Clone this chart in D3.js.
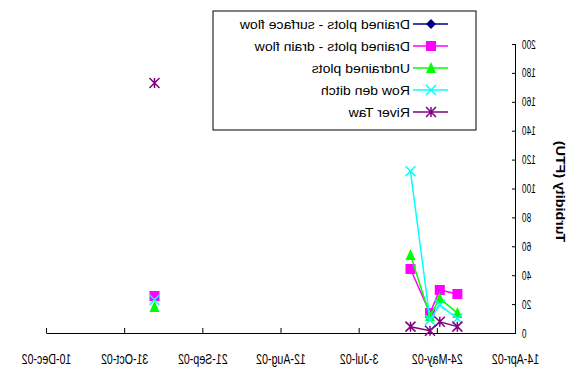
<!DOCTYPE html>
<html>
<head>
<meta charset="utf-8">
<script src="https://cdnjs.cloudflare.com/ajax/libs/d3/7.8.5/d3.min.js"></script>
<style>
  body { margin: 0; background: #fff; }
  svg { display: block; transform: scaleX(-1); }
  text { font-family: "Liberation Sans", Arial, sans-serif; fill: #000; }
</style>
</head>
<body>
<svg id="chart" width="579" height="372"></svg>
<script>
// sampling dates (a blank row between June and October gives the gap)
const dates = ["14-May-02", "23-May-02", "28-May-02", "7-Jun-02", null, "16-Oct-02"];
const surfaceFlow = [null, null, null, null, null, null];
const drainFlow   = [27, 29.8, 13.8, 44.3, null, 25.6];
const undrained   = [13.8, 24, 11.8, 54, null, 18];
const rowDen      = [10, 19.5, 9, 112, null, 23];
const riverTaw    = [4.4, 7.8, 1.6, 4.4, null, 173];

const xTickLabels = ["14-Apr-02", "24-May-02", "3-Jul-02", "12-Aug-02", "21-Sep-02", "31-Oct-02", "10-Dec-02"];
const yTicks = [0, 20, 40, 60, 80, 100, 120, 140, 160, 180, 200];

const parse = d3.timeParse("%d-%b-%y");
const fmt = d3.timeFormat("%-d-%b-%y");

const series = [
  {name: "Drained plots - surface flow", values: surfaceFlow, color: "#000080", marker: "diamond"},
  {name: "Drained plots - drain flow", values: drainFlow, color: "#ff00ff", marker: "square"},
  {name: "Undrained plots", values: undrained, color: "#00ff00", marker: "triangle"},
  {name: "Row den ditch", values: rowDen, color: "#00ffff", marker: "x"},
  {name: "River Taw", values: riverTaw, color: "#800080", marker: "star"}
];

const svg = d3.select("#chart");
const margin = {top: 44, right: 47, bottom: 39, left: 63};
const W = 579, H = 372;

const x = d3.scaleTime()
  .domain([parse(xTickLabels[0]), parse(xTickLabels[xTickLabels.length - 1])])
  .range([margin.left, W - margin.right]);
const y = d3.scaleLinear().domain([0, 200]).range([H - margin.bottom, margin.top]);

// squeeze text horizontally like the original rendering
function squeeze(sel, k) {
  sel.each(function () {
    const len = this.getComputedTextLength();
    d3.select(this).attr("textLength", len * k).attr("lengthAdjust", "spacingAndGlyphs");
  });
}

// axes
const xAxis = svg.append("g")
  .attr("transform", `translate(0,${y(0)})`)
  .call(d3.axisBottom(x)
    .tickValues(xTickLabels.map(parse))
    .tickFormat(fmt)
    .tickSizeInner(-5).tickSizeOuter(0).tickPadding(20));
xAxis.selectAll("text").style("font-size", "15px").call(squeeze, 0.71);

const yAxis = svg.append("g")
  .attr("transform", `translate(${margin.left},0)`)
  .call(d3.axisLeft(y).tickValues(yTicks).tickSizeInner(-4).tickSizeOuter(0).tickPadding(6));
yAxis.selectAll("text").style("font-size", "12.5px").call(squeeze, 0.66);
svg.selectAll(".domain, .tick line").attr("stroke", "#000").attr("stroke-width", 1);

svg.append("text")
  .attr("transform", `translate(23,${(y(0) + y(200)) / 2 + 3}) rotate(-90)`)
  .attr("text-anchor", "middle")
  .style("font-size", "13px").style("font-weight", "bold")
  .text("Turbidity (FTU)")
  .call(squeeze, 1.1);

// markers
function drawMarker(g, type, color) {
  const s = 5;
  if (type === "diamond") {
    g.append("path").attr("d", `M0,${-s}L${s},0L0,${s}L${-s},0Z`).attr("fill", color);
  } else if (type === "square") {
    g.append("rect").attr("x", -s).attr("y", -s).attr("width", 2 * s).attr("height", 2 * s).attr("fill", color);
  } else if (type === "triangle") {
    g.append("path").attr("d", `M0,${-s - 1}L${s},${s}L${-s},${s}Z`).attr("fill", color);
  } else if (type === "x") {
    g.append("path").attr("d", `M${-s},${-s}L${s},${s}M${-s},${s}L${s},${-s}`)
      .attr("stroke", color).attr("stroke-width", 1.5);
  } else if (type === "star") {
    g.append("path").attr("d", `M${-s},${-s}L${s},${s}M${-s},${s}L${s},${-s}M0,${-s}L0,${s}`)
      .attr("stroke", color).attr("stroke-width", 1.5);
  }
}

const line = d3.line()
  .defined(d => d.date && d.v != null)
  .x(d => x(d.date))
  .y(d => y(d.v));

series.forEach(s => {
  const pts = dates.map((d, i) => ({date: d ? parse(d) : null, v: s.values[i]}));
  svg.append("path")
    .datum(pts)
    .attr("d", line)
    .attr("fill", "none")
    .attr("stroke", s.color)
    .attr("stroke-width", 1.5);
  pts.filter(p => p.date && p.v != null).forEach(p => {
    const g = svg.append("g").attr("transform", `translate(${x(p.date)},${y(p.v)})`);
    drawMarker(g, s.marker, s.color);
  });
});

// legend
const legend = svg.append("g").attr("transform", "translate(103,11)");
legend.append("rect").attr("width", 263).attr("height", 119)
  .attr("fill", "#fff").attr("stroke", "#000").attr("stroke-width", 1);
series.forEach((s, i) => {
  const ry = 13 + i * 22;
  legend.append("line").attr("x1", 28).attr("x2", 63).attr("y1", ry).attr("y2", ry)
    .attr("stroke", s.color).attr("stroke-width", 1.5);
  drawMarker(legend.append("g").attr("transform", `translate(45,${ry})`), s.marker, s.color);
  legend.append("text").attr("x", 66).attr("y", ry + 4.5)
    .style("font-size", "13px").text(s.name).call(squeeze, 1.08);
});
</script>
</body>
</html>
